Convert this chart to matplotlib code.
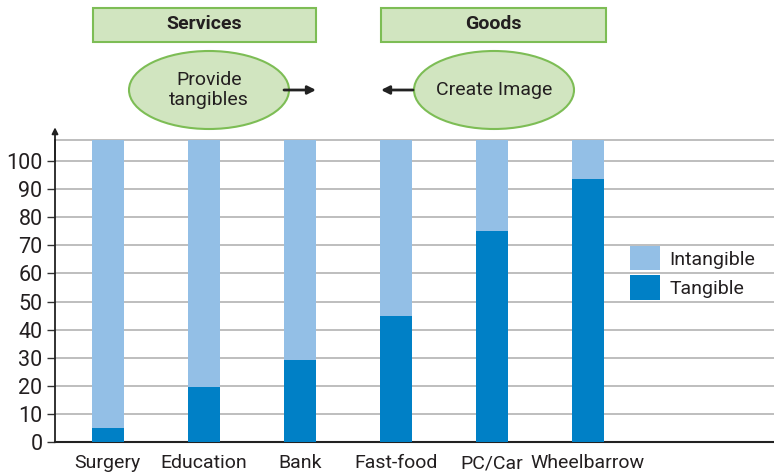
import matplotlib.pyplot as plt
from matplotlib.patches import Rectangle, Ellipse

categories = ['Surgery', 'Education', 'Bank', 'Fast-food', 'PC/Car', 'Wheelbarrow']
tangible = [5, 19.5, 29.3, 45, 75, 93.6]
bar_top = 107.5
yticks = [0, 10, 20, 30, 40, 50, 60, 70, 80, 90, 100]

light = '#93bfe6'
dark = '#0080c6'
green_fill = '#d1e5c0'
green_edge = '#7dbd55'
txt = '#231f20'

plt.rcParams['font.family'] = ['Roboto', 'DejaVu Sans']
fs = 14

W, H = 774, 476
fig = plt.figure(figsize=(W / 100, H / 100), dpi=100)

# main chart axes, placed in pixel terms
x0, x1, ytop, ybot = 55, 774, 140, 442
ax = fig.add_axes([x0 / W, (H - ybot) / H, (x1 - x0) / W, (ybot - ytop) / H])

pos = list(range(len(categories)))
intangible = [bar_top - t for t in tangible]
ax.bar(pos, tangible, width=0.33, color=dark, label='Tangible', zorder=3)
ax.bar(pos, intangible, bottom=tangible, width=0.33, color=light, label='Intangible', zorder=3)

ax.set_xlim(-0.55, 6.94)
ax.set_ylim(0, bar_top)
ax.set_yticks(yticks)
ax.set_yticklabels([str(v) for v in yticks], fontsize=15.5, color=txt)
ax.set_xticks(pos)
ax.set_xticklabels(categories, fontsize=fs, color=txt)
ax.tick_params(axis='x', length=0, pad=9)
ax.tick_params(axis='y', length=6, width=1, color='#333333', pad=3)
ax.grid(axis='y', color='#b3b3b3', linewidth=1.2, zorder=0)
ax.spines['right'].set_visible(False)
ax.spines['top'].set_color('#b3b3b3')
ax.spines['top'].set_linewidth(1.2)
ax.spines['bottom'].set_color('#222222')
ax.spines['bottom'].set_linewidth(1.5)
ax.spines['left'].set_color('#222222')
ax.spines['left'].set_linewidth(1.3)
ax.spines['left'].set_zorder(4)
ax.annotate('', xy=(-0.55, 112), xytext=(-0.55, 100), xycoords='data',
            arrowprops=dict(arrowstyle='-|>', color='#222222', lw=1.3, mutation_scale=9,
                            shrinkA=0, shrinkB=0),
            annotation_clip=False)

handles, labels = ax.get_legend_handles_labels()
ax.legend(handles[::-1], labels[::-1], loc='upper left', bbox_to_anchor=(0.775, 0.707),
          frameon=False, fontsize=fs, handlelength=1.55, handleheight=1.55,
          handletextpad=0.5, labelspacing=0.25, labelcolor=txt)

# overlay for the labels above the chart, in pixel coordinates
ov = fig.add_axes([0, 0, 1, 1])
ov.set_xlim(0, W)
ov.set_ylim(H, 0)
ov.axis('off')

for (bx, bw, label) in [(93, 223, 'Services'), (381, 225, 'Goods')]:
    ov.add_patch(Rectangle((bx, 8), bw, 34, facecolor=green_fill, edgecolor=green_edge, lw=1.5))
    ov.text(bx + bw / 2, 24, label, ha='center', va='center', fontsize=fs,
            fontweight='bold', color=txt)

for (cx, label) in [(209, 'Provide\ntangibles'), (494, 'Create Image')]:
    ov.add_patch(Ellipse((cx, 90), 160, 78, facecolor=green_fill, edgecolor=green_edge, lw=1.5))
    ov.text(cx, 90, label, ha='center', va='center', fontsize=fs, color=txt,
            linespacing=1.15)

ov.annotate('', xy=(316, 90), xytext=(284, 90),
            arrowprops=dict(arrowstyle='-|>', color='#222222', lw=2, mutation_scale=12,
                            shrinkA=0, shrinkB=0))
ov.annotate('', xy=(381, 90), xytext=(413, 90),
            arrowprops=dict(arrowstyle='-|>', color='#222222', lw=2, mutation_scale=12,
                            shrinkA=0, shrinkB=0))

fig.savefig('out.png', dpi=100)
